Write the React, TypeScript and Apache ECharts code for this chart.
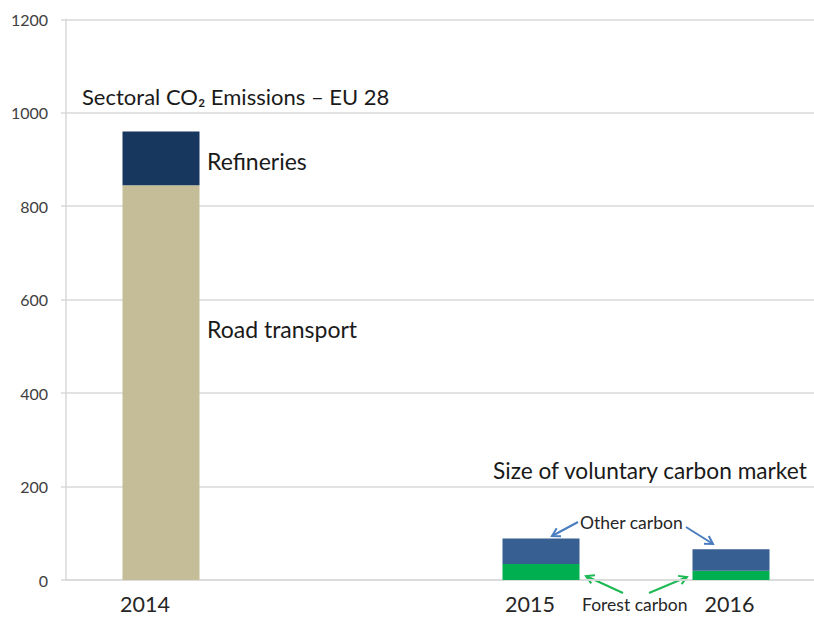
import React, { useEffect, useRef } from "react";
import * as echarts from "echarts";

const categories = ["2014", "", "2015", "2016"];
const roadTransport = [845, null, null, null];
const refineries = [115, null, null, null];
const forestCarbon = [null, null, 34, 20];
const otherCarbon = [null, null, 55, 46];
const yTicks = { min: 0, max: 1200, interval: 200 };

const FONT = "Lato, 'Open Sans', sans-serif";

function arrow(x1: number, y1: number, x2: number, y2: number, color: string) {
  const ang = Math.atan2(y2 - y1, x2 - x1);
  const L = 9;
  const a = Math.PI / 6;
  const p1 = [x2 - L * Math.cos(ang - a), y2 - L * Math.sin(ang - a)];
  const p2 = [x2 - L * Math.cos(ang + a), y2 - L * Math.sin(ang + a)];
  return {
    type: "group",
    children: [
      { type: "line", shape: { x1, y1, x2, y2 }, style: { stroke: color, lineWidth: 2 } },
      { type: "polyline", shape: { points: [p1, [x2, y2], p2] }, style: { stroke: color, lineWidth: 2, fill: null } },
    ],
  };
}

export default function App() {
  const ref = useRef<HTMLDivElement>(null);
  useEffect(() => {
    document.body.style.margin = "0";
    const chart = echarts.init(ref.current!, null, { renderer: "svg" });
    const shifts: Record<string, number> = { "2014": 32, "2015": 22, "2016": 3 };
    const rich: any = {};
    Object.keys(shifts).forEach((k) => {
      rich["c" + k] = { fontSize: 21.5, color: "#262626", fontFamily: FONT, padding: [0, shifts[k], 0, 0] };
    });
    const blue = "#4a7cc0";
    const green = "#1db954";
    chart.setOption({
      animation: false,
      backgroundColor: "#ffffff",
      grid: { left: 66, top: 19.3, width: 760, height: 560.7, containLabel: false, outerBoundsMode: "none" },
      xAxis: {
        type: "category",
        data: categories,
        axisLine: { show: true, lineStyle: { color: "#d9d9d9", width: 1.5 } },
        axisTick: { show: false },
        axisLabel: {
          margin: 13,
          interval: 0,
          formatter: (v: string) => (v ? `{c${v}|${v}}` : ""),
          rich,
        },
      },
      yAxis: {
        type: "value",
        min: yTicks.min,
        max: yTicks.max,
        interval: yTicks.interval,
        axisLine: { show: true, lineStyle: { color: "#d9d9d9", width: 1.5 } },
        axisTick: { show: true, length: 5, lineStyle: { color: "#d9d9d9", width: 1.5 } },
        splitLine: { show: true, lineStyle: { color: "#d9d9d9", width: 1.5 } },
        axisLabel: { margin: 18, fontSize: 16, color: "#404040", fontFamily: FONT, formatter: (v: number) => String(v) },
      },
      series: [
        { name: "Road transport", type: "bar", stack: "a", barWidth: 77, data: roadTransport, itemStyle: { color: "#c4bd97" } },
        { name: "Refineries", type: "bar", stack: "a", barWidth: 77, data: refineries, itemStyle: { color: "#17375e" } },
        { name: "Forest carbon", type: "bar", stack: "a", barWidth: 77, data: forestCarbon, itemStyle: { color: "#00b050" } },
        { name: "Other carbon", type: "bar", stack: "a", barWidth: 77, data: otherCarbon, itemStyle: { color: "#375f92" } },
      ],
      graphic: [
        { type: "text", left: 82, top: 85, style: { text: "Sectoral CO₂ Emissions – EU 28", fontSize: 22, fill: "#1a1a1a", fontFamily: FONT } },
        { type: "text", left: 207, top: 149, style: { text: "Refineries", fontSize: 23, fill: "#1a1a1a", fontFamily: FONT } },
        { type: "text", left: 207, top: 317, style: { text: "Road transport", fontSize: 23, fill: "#1a1a1a", fontFamily: FONT } },
        { type: "text", left: 493, top: 459, style: { text: "Size of voluntary carbon market", fontSize: 22.7, fill: "#1a1a1a", fontFamily: FONT } },
        { type: "text", left: 580, top: 513, style: { text: "Other carbon", fontSize: 17.5, fill: "#262626", fontFamily: FONT } },
        { type: "text", left: 582, top: 595, style: { text: "Forest carbon", fontSize: 17.5, fill: "#262626", fontFamily: FONT } },
        arrow(578, 522, 552, 536, blue),
        arrow(686, 527, 713, 544, blue),
        arrow(623, 593, 586, 576, green),
        arrow(649, 593, 687, 577, green),
      ],
    });
    return () => chart.dispose();
  }, []);
  return <div ref={ref} style={{ width: 814, height: 623 }} />;
}
